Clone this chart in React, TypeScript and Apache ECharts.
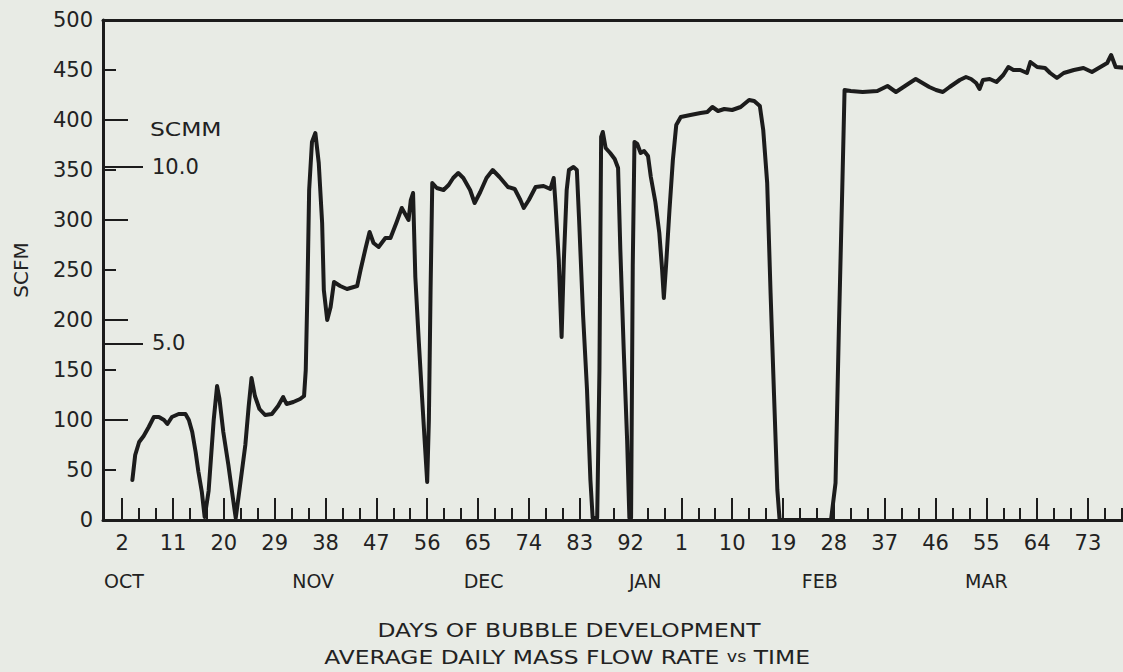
import React, { useEffect, useRef } from "react";
import * as echarts from "echarts";

// Average daily mass flow rate (SCFM) against day of bubble development
const flowDays = [
  3.8, 4.3, 5, 5.8, 6.7, 7.6, 8.5, 9.4, 10, 10.8, 12, 13.2, 13.8, 14.4, 15, 15.5, 16.1, 16.6,
  17.3, 18.2, 18.8, 19.2, 19.9, 20.8, 21.6, 22.1, 22.9, 23.8, 24.4, 24.9, 25.5, 26.3, 27.3,
  28.5, 29.6, 30.5, 31.1, 32.3, 33.5, 34.2, 34.5, 34.8, 35.1, 35.6, 36.2, 36.8, 37.4, 37.7,
  38.3, 38.9, 39.5, 40.6, 41.8, 43.6, 44.2, 45.1, 45.8, 46.5, 47.4, 48.6, 49.5, 50.6, 51.5,
  52.1, 52.7, 53.1, 53.5, 53.9, 54.5, 55.1, 55.6, 56, 56.3, 56.6, 56.9, 57.7, 58.9, 59.8,
  60.6, 61.5, 62.4, 63.6, 64.4, 65.4, 66.5, 67.6, 68.8, 70.3, 71.5, 72.5, 73.1, 74, 75.2,
  76.6, 77.8, 78.4, 78.7, 79.3, 79.8, 80.2, 80.7, 81.1, 81.9, 82.5, 82.9, 83.6, 84.3, 84.9,
  85.3, 86.1, 86.5, 86.8, 87.1, 87.6, 88.4, 89.2, 89.8, 90.2, 90.8, 91.4, 91.8, 92.1, 92.4,
  92.7, 93.2, 93.8, 94.4, 95.1, 95.6, 96.4, 97.1, 97.6, 97.9, 98.3, 98.9, 99.5, 100.1, 100.9,
  102.6, 104.4, 105.6, 106.5, 107.5, 108.6, 110, 111.5, 113, 113.9, 114.9, 115.5, 116.2,
  116.8, 117.4, 118, 118.4, 127.5, 128.3, 128.9, 129.5, 129.9, 131, 133.1, 135.7, 137.5,
  139, 141.4, 142.5, 143.7, 144.9, 146.1, 147.3, 148.5, 150.3, 151.4, 152.3, 153.2, 153.8,
  154.4, 155.6, 156.8, 158, 158.9, 159.8, 161, 162.2, 162.8, 164, 165.4, 166.3, 167.5,
  168.7, 170.5, 172.2, 173.7, 175.2, 176.4, 177.1, 177.9, 180,
];
const flowScfm = [
  40, 65, 78, 84, 93, 103, 103, 100, 96, 103, 106, 106, 100, 88, 68, 48, 28, 3,
  29, 100, 134, 122, 88, 55, 22, 2, 36, 75, 114, 142, 124, 111, 105,
  106, 114, 123, 116, 118, 121, 124, 150, 230, 330, 378, 387, 357, 297, 230,
  200, 213, 238, 234, 231, 234, 250, 272, 288, 277, 273, 282, 282, 298, 312,
  306, 300, 320, 327, 243, 180, 122, 75, 38, 100, 230, 337, 332, 330, 335,
  342, 347, 342, 330, 317, 328, 342, 350, 343, 333, 331, 320, 312, 320, 333,
  334, 331, 342, 318, 260, 183, 260, 330, 350, 353, 350, 300, 205, 130, 40,
  2, 2, 150, 383, 388, 372, 367, 361, 352, 270, 170, 80, 2, 2, 255,
  378, 376, 367, 369, 364, 343, 318, 287, 250, 222, 255, 310, 360, 395, 403,
  405, 407, 408, 413, 409, 411, 410, 413, 420, 419, 414, 390, 337,
  227, 127, 30, 0, 0, 37, 193, 333, 430, 429, 428, 429, 434,
  428, 437, 441, 437, 433, 430, 428, 433, 440, 443, 441, 437, 431,
  440, 441, 438, 445, 453, 450, 450, 447, 458, 453, 452, 447, 442,
  447, 450, 452, 448, 453, 457, 465, 453, 452,
];

// Day-number tick labels (every 9 days) and the small ticks (every 3 days)
const labelDays = [2, 11, 20, 29, 38, 47, 56, 65, 74, 83, 92, 101, 110, 119, 128, 137, 146, 155, 164, 173];
const minorTickDays = [
  2, 5, 8, 11, 14, 17, 20, 23, 26, 29, 32, 35, 38, 41, 44, 47, 50, 53, 56, 59, 62, 65, 68, 71,
  74, 77, 80, 83, 86, 89, 92, 95, 98, 101, 104, 107, 110, 113, 116, 119, 122, 125, 128, 131,
  134, 137, 140, 143, 146, 149, 152, 155, 158, 161, 164, 167, 170, 173, 176, 179,
];

// Month names placed under the day scale
const monthDays = [2.3, 35.8, 66, 94.6, 125.5, 155];
const monthNames = ["OCT", "NOV", "DEC", "JAN", "FEB", "MAR"];

// SCFM scale ticks and the metric (SCMM) reference marks
const scfmLongTicks = [100, 200, 300, 400];
const scmmMarks = [5, 10];
const FT3_PER_M3 = 35.3147;

const INK = "#1c1c1c";
const TEXT = "#222222";
const SANS = "'DejaVu Sans', 'Liberation Sans', Arial, sans-serif";
const WIDE = 1.17; // lettering on this sheet is set wide

const X_MIN = -1.4;
const X_MAX = 179.2;

export default function App() {
  const ref = useRef<HTMLDivElement>(null);

  useEffect(() => {
    if (!ref.current) return;
    const chart = echarts.init(ref.current, undefined, { renderer: "svg" });

    const baseX = {
      type: "value" as const,
      min: X_MIN,
      max: X_MAX,
      splitLine: { show: false },
      gridIndex: 0,
    };

    chart.setOption({
      animation: false,
      backgroundColor: "#e8ebe5",
      grid: { left: 103, top: 20, right: 0, bottom: 152 },
      xAxis: [
        {
          ...baseX,
          position: "bottom",
          axisLine: { show: true, onZero: false, lineStyle: { color: INK, width: 3 } },
          axisTick: {
            show: true,
            inside: true,
            length: 12,
            customValues: minorTickDays,
            lineStyle: { color: INK, width: 2 },
          },
          axisLabel: { show: false },
        },
        {
          ...baseX,
          position: "bottom",
          axisLine: { show: false, onZero: false },
          axisTick: {
            show: true,
            inside: true,
            length: 22,
            customValues: labelDays,
            lineStyle: { color: INK, width: 2 },
          },
          axisLabel: {
            show: true,
            customValues: labelDays,
            margin: 12,
            formatter: (v: number) => String(Math.round(v) % 100),
            color: TEXT,
            fontSize: 21,
            fontFamily: SANS,
          },
        },
        {
          ...baseX,
          position: "bottom",
          axisLine: { show: false, onZero: false },
          axisTick: { show: false },
          axisLabel: {
            show: true,
            customValues: monthDays,
            margin: 51,
            formatter: (v: number) => monthNames[monthDays.indexOf(v)] ?? "",
            color: TEXT,
            fontSize: 19,
            fontFamily: SANS,
          },
        },
        {
          ...baseX,
          position: "top",
          axisLine: { show: true, onZero: false, lineStyle: { color: INK, width: 3 } },
          axisTick: { show: false },
          axisLabel: { show: false },
        },
      ],
      yAxis: [
        {
          type: "value",
          min: 0,
          max: 500,
          interval: 50,
          position: "left",
          splitLine: { show: false },
          axisLine: { show: true, onZero: false, lineStyle: { color: INK, width: 3 } },
          axisTick: { show: true, inside: true, length: 13, lineStyle: { color: INK, width: 2 } },
          axisLabel: { color: TEXT, fontSize: 21, fontFamily: SANS, margin: 10 },
          name: "SCFM",
          nameLocation: "middle",
          nameGap: 72,
          nameRotate: 90,
          nameTextStyle: { color: TEXT, fontSize: 20, fontFamily: SANS },
        },
        {
          type: "value",
          min: 0,
          max: 500,
          position: "left",
          splitLine: { show: false },
          axisLine: { show: false, onZero: false },
          axisTick: {
            show: true,
            inside: true,
            length: 25,
            customValues: scfmLongTicks,
            lineStyle: { color: INK, width: 2 },
          },
          axisLabel: { show: false },
        },
        {
          type: "value",
          min: 0,
          max: 500 / FT3_PER_M3,
          position: "left",
          splitLine: { show: false },
          axisLine: { show: false, onZero: false },
          axisTick: {
            show: true,
            inside: true,
            length: 40,
            customValues: scmmMarks,
            lineStyle: { color: INK, width: 2 },
          },
          axisLabel: {
            show: true,
            inside: true,
            customValues: scmmMarks,
            margin: 49,
            formatter: (v: number) => v.toFixed(1),
            color: TEXT,
            fontSize: 21,
            fontFamily: SANS,
          },
        },
      ],
      graphic: [
        {
          type: "text",
          x: 150,
          y: 129,
          scaleX: WIDE,
          style: {
            text: "SCMM",
            fill: TEXT,
            font: `20px ${SANS}`,
            align: "left",
            verticalAlign: "middle",
          },
        },
        {
          type: "text",
          x: 569,
          y: 630,
          scaleX: WIDE,
          style: {
            text: "DAYS OF BUBBLE DEVELOPMENT",
            fill: TEXT,
            font: `20px ${SANS}`,
            align: "center",
            verticalAlign: "middle",
          },
        },
        {
          type: "text",
          x: 567,
          y: 657,
          scaleX: WIDE,
          style: {
            text: "{a|AVERAGE DAILY MASS FLOW RATE }{b|vs}{a| TIME}",
            align: "center",
            verticalAlign: "middle",
            rich: {
              a: { fill: TEXT, fontSize: 20, fontFamily: SANS },
              b: { fill: TEXT, fontSize: 15, fontFamily: SANS },
            },
          },
        },
      ],
      series: [
        {
          type: "line",
          xAxisIndex: 0,
          yAxisIndex: 0,
          data: flowDays.map((d, i) => [d, flowScfm[i]]),
          showSymbol: false,
          symbol: "none",
          lineStyle: { color: INK, width: 4, join: "round", cap: "round" },
          clip: true,
          silent: true,
        },
      ],
    });

    return () => chart.dispose();
  }, []);

  return (
    <div
      ref={ref}
      style={{ position: "fixed", left: 0, top: 0, width: 1123, height: 672 }}
    />
  );
}
